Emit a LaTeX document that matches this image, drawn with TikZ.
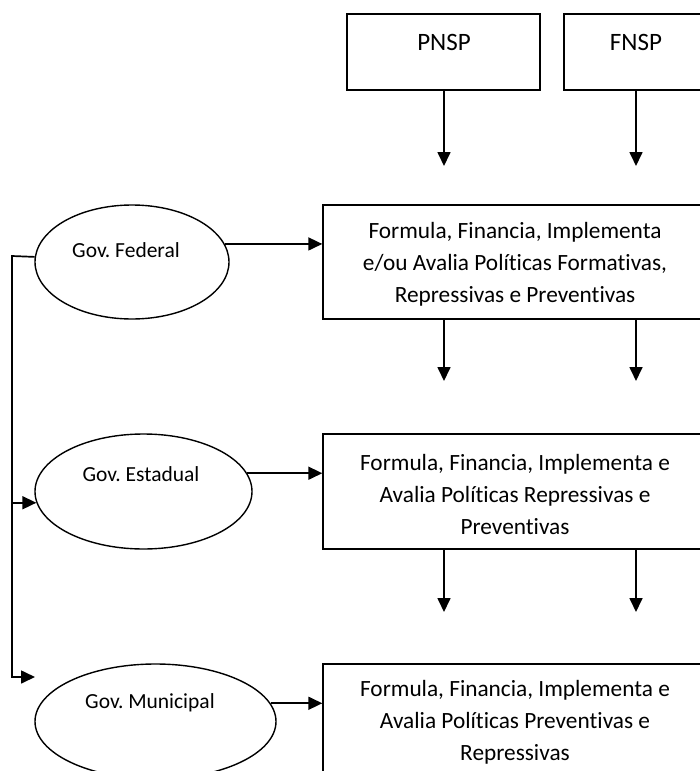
\documentclass[tikz,border=0pt]{standalone}
\usepackage{fontspec}
\setmainfont{Carlito}[RawFeature={-liga;-clig;-calt;-dlig}]
\usetikzlibrary{shapes.geometric,arrows.meta,calc}
\frenchspacing
\tikzset{
  boxnode/.style={draw, line width=1.4pt, rectangle, inner sep=0pt},
  ellnode/.style={draw, line width=1.4pt, ellipse, inner sep=0pt},
  txt/.style={inner sep=0pt, align=center, font=\fontsize{23.3}{32}\selectfont},
  etxt/.style={inner sep=0pt, font=\fontsize{21.5}{24}\selectfont},
  ttxt/.style={inner sep=0pt, font=\fontsize{25}{28}\selectfont},
  arr/.style={line width=1.7pt, -{Triangle[width=13pt,length=14pt]}},
}
\begin{document}
\begin{tikzpicture}[x=1pt,y=-1pt]
\useasboundingbox (0,0) rectangle (700,771);
\clip (0,0) rectangle (700,771);
% top boxes
\node[boxnode, minimum width=193pt, minimum height=76pt] (pnsp) at (443.5,52) {};
\node[boxnode, minimum width=144pt, minimum height=76pt] (fnsp) at (636,52) {};
\node[ttxt] (pnspt) at (444,42) {PNSP};
\node[ttxt] (fnspt) at (636,42) {FNSP};
\coordinate (pa) at (444,166);
\coordinate (fa) at (636,166);
\draw[arr] (pnsp.south -| pa) -- (pa);
\draw[arr] (fnsp.south -| fa) -- (fa);
% level boxes
\node[boxnode, minimum width=384pt, minimum height=114pt] (b1) at (515,262) {};
\node[txt] (b1t) at (515,264) {Formula, Financia, Implementa\\e/ou Avalia Políticas Formativas,\\Repressivas e Preventivas};
\node[boxnode, minimum width=384pt, minimum height=115pt] (b2) at (515,491.5) {};
\node[txt] (b2t) at (515,494) {Formula, Financia, Implementa e\\Avalia Políticas Repressivas e\\Preventivas};
\node[boxnode, minimum width=384pt, minimum height=115pt] (b3) at (515,721.5) {};
\node[txt] (b3t) at (515,722) {Formula, Financia, Implementa e\\Avalia Políticas Preventivas e\\Repressivas};
\coordinate (a1) at (444,381);
\coordinate (a2) at (636,381);
\coordinate (a3) at (444,612);
\coordinate (a4) at (636,612);
\draw[arr] (b1.south -| a1) -- (a1);
\draw[arr] (b1.south -| a2) -- (a2);
\draw[arr] (b2.south -| a3) -- (a3);
\draw[arr] (b2.south -| a4) -- (a4);
% ellipses
\node[ellnode, minimum width=194pt, minimum height=114pt] (fed) at (132,262) {};
\node[etxt] (fedt) at (126,250) {Gov. Federal};
\node[ellnode, minimum width=217pt, minimum height=115pt] (est) at (143.5,491.5) {};
\node[etxt] (estt) at (141,474) {Gov. Estadual};
\node[ellnode, minimum width=241pt, minimum height=115pt] (mun) at (155.5,721.5) {};
\node[etxt] (munt) at (150,703) {Gov. Municipal};
\draw[arr] (fed.11) -- (fed.11 -| b1.west);
\draw[arr] (est.10) -- (est.10 -| b2.west);
\draw[arr] (mun.9) -- (mun.9 -| b3.west);
% left bus
\coordinate (bustop) at (12,256);
\coordinate (busbot) at (12,677);
\coordinate (muntip) at (35,677);
\draw[arr] (fed.177) -- (bustop) -- (busbot) -- (muntip);
\draw[arr] (est.186 -| bustop) -- (est.186);
\end{tikzpicture}
\end{document}
